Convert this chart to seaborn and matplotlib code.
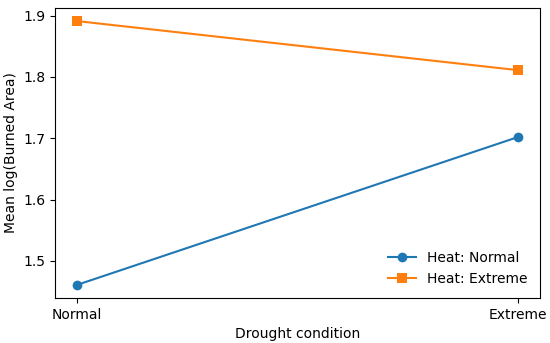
import pandas as pd
import matplotlib
matplotlib.use("Agg")
import matplotlib.pyplot as plt
import seaborn as sns

drought = ["Normal", "Extreme"]
heat_normal = [1.461, 1.702]
heat_extreme = [1.891, 1.811]

def main():
    df = pd.DataFrame({
        "Drought condition": drought * 2,
        "Mean log(Burned Area)": heat_normal + heat_extreme,
        "Heat": ["Heat: Normal"] * 2 + ["Heat: Extreme"] * 2,
    })

    fig, ax = plt.subplots(figsize=(5.5, 3.43), dpi=100)
    sns.lineplot(data=df, x="Drought condition", y="Mean log(Burned Area)",
                 hue="Heat", style="Heat", markers=["o", "s"], dashes=False,
                 palette=["#1f77b4", "#ff7f0e"], markersize=7, markeredgewidth=0,
                 linewidth=1.5, ax=ax)
    ax.set_xlabel("Drought condition")
    ax.set_ylabel("Mean log(Burned Area)")
    ax.set_yticks([1.5, 1.6, 1.7, 1.8, 1.9])
    ax.legend(loc="lower right", frameon=False, title=None)
    fig.subplots_adjust(left=0.1, right=0.982, top=0.977, bottom=0.131)
    plt.savefig("out.png", dpi=100)

main()
